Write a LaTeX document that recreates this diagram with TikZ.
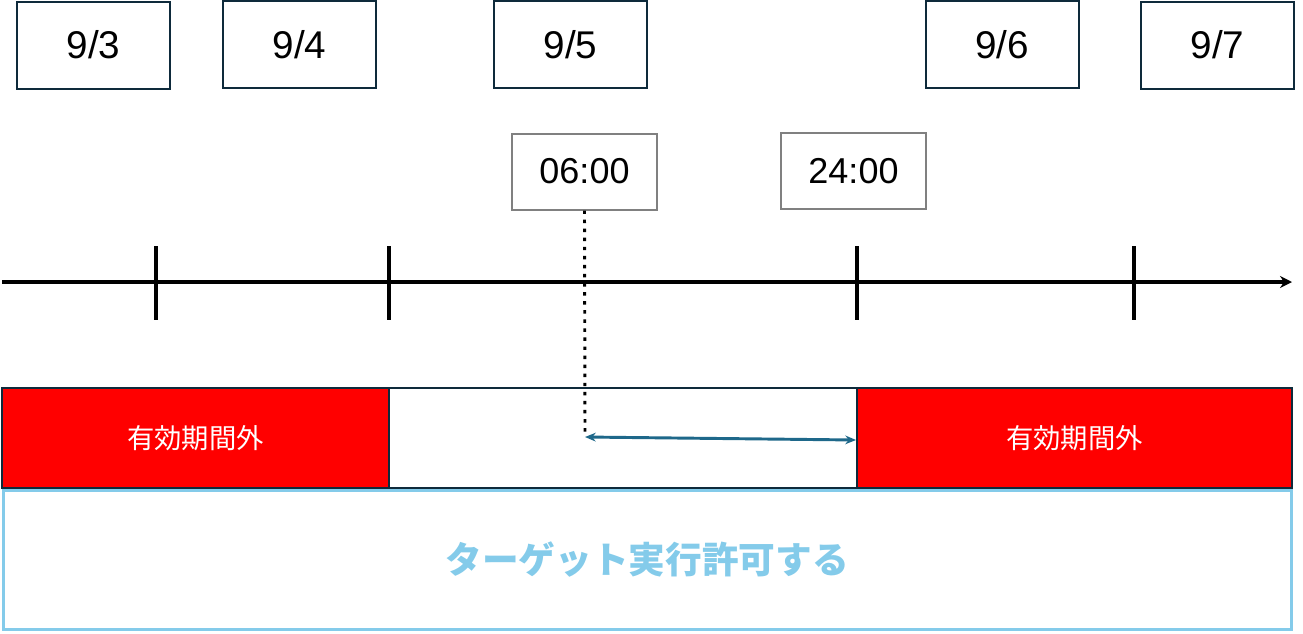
\documentclass[tikz,border=0pt]{standalone}
\usepackage{fontspec}
\setmainfont{Liberation Sans}
\newfontfamily\jpfont{Noto Sans CJK JP}
\usetikzlibrary{arrows.meta}

\definecolor{navy}{RGB}{14,42,59}
\definecolor{arrowblue}{RGB}{30,104,138}
\definecolor{skyblue}{RGB}{132,203,234}

\begin{document}
\begin{tikzpicture}
            [x=0.75pt, y=-0.75pt, >={Stealth[length=8pt, width=6.5pt]},
             daybox/.style={draw=navy, line width=1.5pt, minimum width=114.75pt, minimum height=65.25pt, inner sep=0pt, font=\fontsize{29}{29}\selectfont},
             timebox/.style={draw=gray, line width=1.5pt, minimum width=108.75pt, minimum height=57pt, inner sep=0pt, font=\fontsize{27}{27}\selectfont},
             outbox/.style={draw=navy, fill=red, line width=1.5pt, minimum height=75pt, inner sep=0pt, text=white, font=\jpfont\fontsize{20.5}{20.5}\selectfont},
             tick/.style={line width=2.6pt}]
            \useasboundingbox (0, 0) rectangle (1303, 633);

            % dates
            \node[daybox] (d3) at (93.5, 45) {9/3};
            \node[daybox] (d4) at (299.5, 44.5) {9/4};
            \node[daybox] (d5) at (570.5, 44.5) {9/5};
            \node[daybox] (d6) at (1002, 44.5) {9/6};
            \node[daybox] (d7) at (1217.5, 45) {9/7};

            % times
            \node[timebox] (t06) at (584.5, 171.5) {06:00};
            \node[timebox] (t24) at (853.5, 171) {24:00};

            % axis
            \coordinate (axstart) at (2, 282);
            \coordinate (axend) at (1292, 282);
            \draw[tick, ->, >={Stealth[length=9pt, width=9pt]}] (axstart) -- (axend);
            \draw[tick] (156, 246) -- (156, 320);
            \draw[tick] (389, 246) -- (389, 320);
            \draw[tick] (857, 246) -- (857, 320);
            \draw[tick] (1134, 246) -- (1134, 320);

            % bottom band
            \node[draw=skyblue, line width=2.25pt, minimum width=966pt, minimum height=104pt, inner sep=0pt, text=skyblue,
                  font=\jpfont\bfseries\fontsize{27.5}{27.5}\selectfont] (allow) at (647, 560) {ターゲット実行許可する};

            % validity
            \node[outbox, minimum width=290.25pt] (outl) at (195.5, 438) {有効期間外};
            \node[draw=navy, line width=1.5pt, fill=white, minimum width=351pt, minimum height=75pt, inner sep=0pt] (valid) at (623, 438) {};
            \node[outbox, minimum width=326.25pt] (outr) at (1074.5, 438) {有効期間外};

            \coordinate (start) at (585, 437);
            \coordinate (stop) at (856, 440);
            \draw[line width=2.2pt, dash pattern=on 2.6pt off 4.2pt] (t06.south) -- (start);
            \draw[<->, arrowblue, line width=2.2pt] (start) -- (stop);
        \end{tikzpicture}
\end{document}
